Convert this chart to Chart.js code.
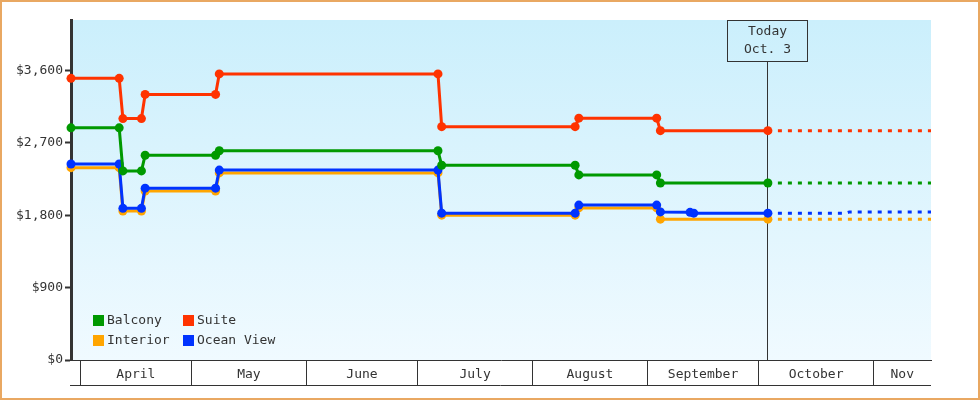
<!DOCTYPE html>
<html><head><meta charset="utf-8">
<script src="https://cdn.jsdelivr.net/npm/chart.js@4"></script>
<style>html,body{margin:0;padding:0;background:#fff}canvas{display:block}</style>
</head><body>
<canvas id="c" width="980" height="400"></canvas>
<script>
const YEAR = 2023;
const seriesNames = ['Balcony', 'Suite', 'Interior', 'Ocean View'];
const seriesColors = ['#009900', '#ff3300', '#ffa500', '#0033ff'];

const priceDates = ['03-29','04-11','04-12','04-17','04-18','05-07','05-08','07-06','07-07','08-12','08-13','09-03','09-04','10-03'];
const balcony  = [2885,2885,2350,2350,2545,2545,2600,2600,2420,2420,2300,2300,2200,2200];
const suite    = [3500,3500,3000,3000,3300,3300,3555,3555,2900,2900,3005,3005,2850,2850];
const interior = [2390,2390,1850,1850,2100,2100,2325,2325,1800,1800,1890,1890,1750,1750];
const oceanDates = ['03-29','04-11','04-12','04-17','04-18','05-07','05-08','07-06','07-07','08-12','08-13','09-03','09-04','09-12','09-13','10-03'];
const oceanView  = [2435,2435,1885,1885,2135,2135,2360,2360,1825,1825,1925,1925,1840,1835,1825,1825];

const forecastDates = ['10-03','11-16'];
const balconyForecast  = [2200,2200];
const suiteForecast    = [2850,2850];
const interiorForecast = [1750,1750];
const oceanForecastDates = ['10-03','10-24','10-25','11-16'];
const oceanForecast = [1825,1825,1840,1840];

const monthLabels = ['April','May','June','July','August','September','October','Nov'];
const monthStarts = ['04-01','05-01','06-01','07-01','08-01','09-01','10-01','11-01'];
const yTicks = [0, 900, 1800, 2700, 3600];
const axisStart = '03-29', axisEnd = '11-16', todayDate = '10-03';
const todayLines = ['Today', 'Oct. 3'];

const FONT = '"DejaVu Sans Mono", monospace';
const INK = '#333';

function dayOf(s) { const [m, d] = s.split('-').map(Number); return (Date.UTC(YEAR, m - 1, d) - Date.UTC(YEAR, 3, 1)) / 864e5; }
function noon(s) { return dayOf(s) + 0.5; }
function pts(dates, vals) { return dates.map((d, i) => ({ x: noon(d), y: vals[i] })); }

const xMin = noon(axisStart), xMax = noon(axisEnd), today = noon(todayDate);
const bounds = monthStarts.map(dayOf);
const mids = bounds.map((b, i) => (b + (i + 1 < bounds.length ? bounds[i + 1] : xMax)) / 2);
const labelAt = new Map(mids.map((m, i) => [m, monthLabels[i]]));
const boundSet = new Set(bounds);

function solid(label, dates, vals, color) {
  return { label, data: pts(dates, vals), borderColor: color, backgroundColor: color,
    borderWidth: 3, pointRadius: 4.5, pointHoverRadius: 4.5, pointBorderWidth: 0,
    pointBackgroundColor: color, tension: 0, clip: false };
}
function dashed(label, dates, vals, color) {
  return { label, data: pts(dates, vals), borderColor: color, borderWidth: 3,
    borderDash: [4, 6], pointRadius: 0, tension: 0, clip: false, borderCapStyle: 'butt' };
}

const bgPlugin = {
  id: 'bg',
  beforeDraw(chart) {
    const { ctx, chartArea: a } = chart;
    const g = ctx.createLinearGradient(0, a.top, 0, a.bottom);
    g.addColorStop(0, '#cbeffc');
    g.addColorStop(1, '#f0faff');
    ctx.save(); ctx.fillStyle = g; ctx.fillRect(a.left, a.top, a.right - a.left, a.bottom - a.top); ctx.restore();
  },
  beforeDatasetsDraw(chart) {
    const { ctx, chartArea: a, scales: { x } } = chart;
    const px = Math.round(x.getPixelForValue(today)) - 0.5;
    const bw = 80, bh = 41;
    ctx.save();
    ctx.strokeStyle = INK; ctx.lineWidth = 1;
    ctx.beginPath(); ctx.moveTo(px, a.top + bh); ctx.lineTo(px, a.bottom); ctx.stroke();
    ctx.strokeRect(px - bw / 2, a.top + 0.5, bw, bh);
    ctx.fillStyle = INK; ctx.font = '13px ' + FONT; ctx.textAlign = 'center'; ctx.textBaseline = 'middle';
    ctx.fillText(todayLines[0], px, a.top + 12);
    ctx.fillText(todayLines[1], px, a.top + 30);
    ctx.restore();
  },
  afterDraw(chart) {
    const { ctx, chartArea: a } = chart;
    ctx.save();
    ctx.strokeStyle = INK; ctx.lineWidth = 1;
    ctx.beginPath(); ctx.moveTo(a.left - 1, a.bottom + 25.5); ctx.lineTo(a.right, a.bottom + 25.5); ctx.stroke();
    // legend
    ctx.font = '13px ' + FONT; ctx.textBaseline = 'middle'; ctx.textAlign = 'left';
    const lx = [a.left + 22, a.left + 112], ly = [a.bottom - 45, a.bottom - 25];
    seriesNames.forEach((n, i) => {
      const cx = lx[i % 2], cy = ly[Math.floor(i / 2)];
      ctx.fillStyle = seriesColors[i]; ctx.fillRect(cx, cy, 11, 11);
      ctx.fillStyle = INK; ctx.fillText(n, cx + 14, cy + 6);
    });
    // outer frame
    ctx.strokeStyle = '#e9a862'; ctx.lineWidth = 2;
    ctx.strokeRect(1, 1, chart.width - 2, chart.height - 2);
    ctx.restore();
  }
};

new Chart(document.getElementById('c'), {
  type: 'line',
  data: { datasets: [
    solid('Suite', priceDates, suite, seriesColors[1]),
    solid('Balcony', priceDates, balcony, seriesColors[0]),
    solid('Ocean View', oceanDates, oceanView, seriesColors[3]),
    solid('Interior', priceDates, interior, seriesColors[2]),
    dashed('Suite forecast', forecastDates, suiteForecast, seriesColors[1]),
    dashed('Balcony forecast', forecastDates, balconyForecast, seriesColors[0]),
    dashed('Ocean View forecast', oceanForecastDates, oceanForecast, seriesColors[3]),
    dashed('Interior forecast', forecastDates, interiorForecast, seriesColors[2]),
  ] },
  options: {
    responsive: false, animation: false, devicePixelRatio: 1, events: [],
    layout: { padding: { top: 20, right: 49, bottom: 0, left: 0 } },
    plugins: { legend: { display: false }, tooltip: { enabled: false } },
    scales: {
      x: {
        type: 'linear', min: xMin, max: xMax,
        afterBuildTicks: s => { s.ticks = [...bounds, ...mids].sort((a, b) => a - b).map(v => ({ value: v })); },
        afterFit: s => { s.height = 40; },
        ticks: { autoSkip: false, maxRotation: 0, padding: -18, color: INK, font: { family: FONT, size: 13 },
          callback: v => labelAt.get(v) || '' },
        grid: { drawOnChartArea: false, tickLength: 25, lineWidth: 1,
          color: c => (c.tick && boundSet.has(c.tick.value)) ? INK : 'rgba(0,0,0,0)',
          tickColor: c => (c.tick && boundSet.has(c.tick.value)) ? INK : 'rgba(0,0,0,0)' },
        border: { display: true, color: INK, width: 1 }
      },
      y: {
        min: 0, max: 4225,
        afterBuildTicks: s => { s.ticks = yTicks.map(v => ({ value: v })); },
        afterFit: s => { s.width = 71; },
        ticks: { padding: 2, color: INK, font: { family: FONT, size: 13 },
          callback: v => '$' + v.toLocaleString('en-US') },
        grid: { drawOnChartArea: false, tickLength: 6, tickWidth: 2, color: INK, tickColor: INK },
        border: { display: true, color: INK, width: 3 }
      }
    }
  },
  plugins: [bgPlugin]
});
</script>
</body></html>
